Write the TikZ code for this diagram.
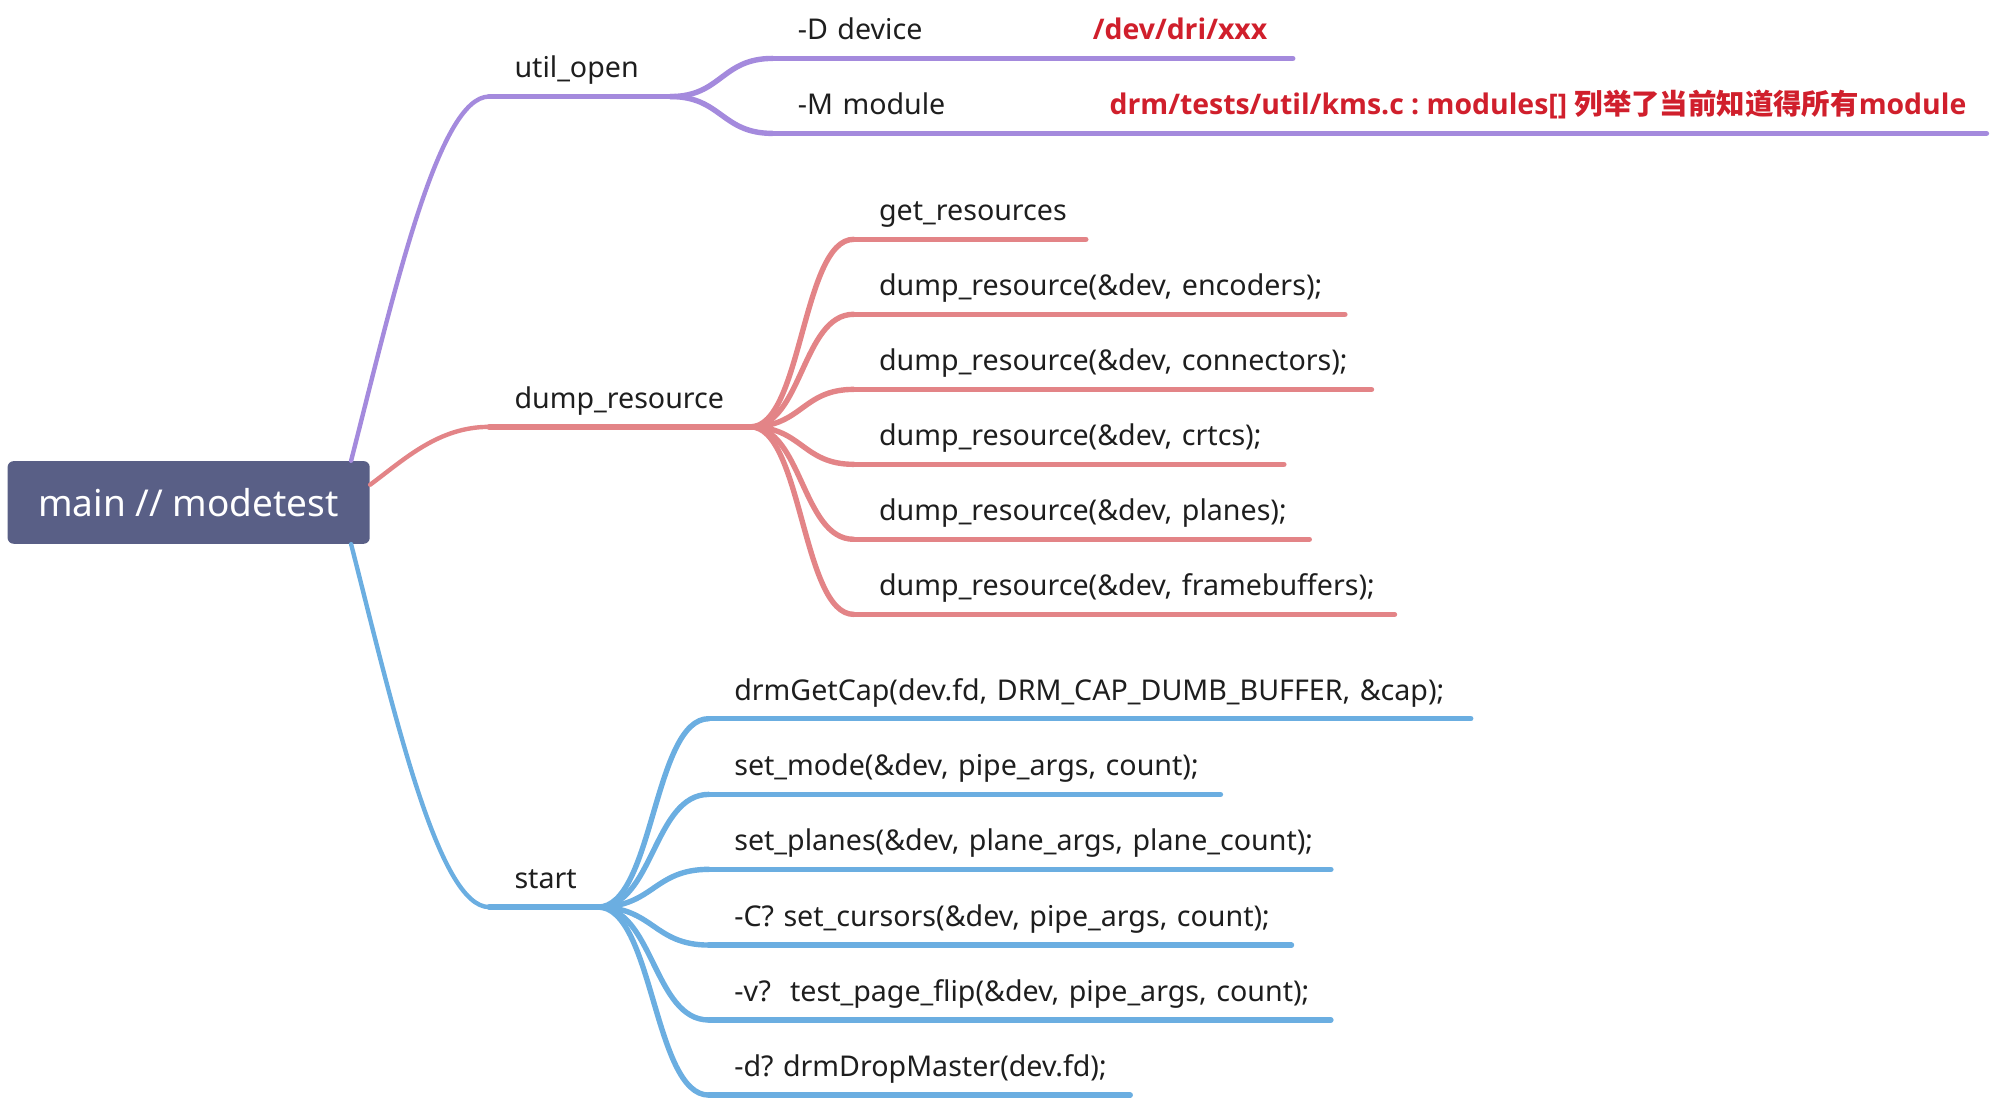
\documentclass[tikz,border=0pt]{standalone}
\usepackage{fontspec}
\setmainfont{Noto Sans}
\newfontfamily\notefont{Open Sans}
\newfontfamily\cjkfont{Noto Sans CJK SC}
\usetikzlibrary{calc}
\frenchspacing

\definecolor{rootfill}{HTML}{595F86}
\definecolor{purpleline}{HTML}{A48ADD}
\definecolor{redline}{HTML}{E38487}
\definecolor{blueline}{HTML}{6BAEE1}
\definecolor{notered}{HTML}{D01F2C}
\definecolor{textgray}{HTML}{1E1E1E}

\tikzset{
	branch/.style={to path={.. controls ($(\tikztostart)!0.5!(\tikztostart -| \tikztotarget)$)
		and ($(\tikztotarget)!0.5!(\tikztotarget -| \tikztostart)$) .. (\tikztotarget)}}
}

\begin{document}
\begin{tikzpicture}[x=0.635pt, y=-0.635pt, line cap=round,
	root node/.style={rectangle, rounded corners=3pt, fill=rootfill, text=white,
		font=\fontsize{18.5}{22}\selectfont, minimum width=181pt, minimum height=41.3pt, inner sep=0pt},
	topic/.style={anchor=south west, inner sep=0pt, text height=10pt, text depth=9.1pt,
		align=left, text=textgray, font=\fontsize{14.3}{17}\selectfont,
		execute at begin node={\hspace*{12.5pt}}},
	note/.style={anchor=base west, inner sep=0pt, text=notered, font=\fontsize{14.2}{17}\selectfont\notefont\bfseries},
	main line/.style={line width=2.2pt},
	sub line/.style={line width=2.7pt}]
	
	\useasboundingbox (0,0) rectangle (1568,866);
	
	\node[root node] (main) at (148.5,395.5) {main // modetest};
	
	% first level
	\node[topic, text width=90.2pt] (util) at (385,76) {util\_open};
	\node[topic, text width=130.2pt] (dump) at (385,336) {dump\_resource};
	\node[topic, text width=54pt] (start) at (385,714) {start};
	
	% util_open
	\node[topic, text width=259.7pt] (dev) at (608,46) {-D device};
	\node[topic, text width=606.4pt] (mod) at (608,105) {-M module};
	\node[note] (devnote) at ([xshift=160pt]dev.base west) {/dev/dri/xxx};
	\node[note] (modnote) at ([xshift=168.3pt]mod.base west) {drm/tests/util/kms.c : modules[] {\cjkfont 列举了当前知道得所有}module};
	
	% dump_resource
	\node[topic, text width=115.6pt] (getres) at (672,188.4) {get\_resources};
	\node[topic, text width=245.1pt] (enc) at (672,247.4) {dump\_resource(\&dev, encoders);};
	\node[topic, text width=258.4pt] (conn) at (672,306.5) {dump\_resource(\&dev, connectors);};
	\node[topic, text width=214.6pt] (crtcs) at (672,365.5) {dump\_resource(\&dev, crtcs);};
	\node[topic, text width=227.3pt] (planes) at (672,424.5) {dump\_resource(\&dev, planes);};
	\node[topic, text width=269.9pt] (fbs) at (672,483.6) {dump\_resource(\&dev, framebuffers);};
	
	% start
	\node[topic, text width=380.4pt] (cap) at (558,565.7) {drmGetCap(dev.fd, DRM\_CAP\_DUMB\_BUFFER, \&cap);};
	\node[topic, text width=255.3pt] (mode) at (558,625.3) {set\_mode(\&dev, pipe\_args, count);};
	\node[topic, text width=310.5pt] (setpl) at (558,684.3) {set\_planes(\&dev, plane\_args, plane\_count);};
	\node[topic, text width=290.8pt] (curs) at (558,743.9) {-C? set\_cursors(\&dev, pipe\_args, count);};
	\node[topic, text width=310.5pt] (flip) at (558,802.9) {-v?~ test\_page\_flip(\&dev, pipe\_args, count);};
	\node[topic, text width=210.2pt] (drop) at (558,862) {-d? drmDropMaster(dev.fd);};
	
	\draw[purpleline, main line] ([xshift=-9.5pt]main.north east) .. controls +(34,-133) and +(-40,0) .. (util.south west);
	\draw[redline, main line] ([yshift=-12pt]main.north east) .. controls +(27,-20) and +(-40,0) .. (dump.south west);
	\draw[blueline, main line] ([xshift=-9.5pt]main.south east) .. controls +(34,133) and +(-40,0) .. (start.south west);
	
	\foreach \n in {util,dev,mod}
		\draw[purpleline, sub line] (\n.south west) -- (\n.south east);
	\foreach \n in {dev,mod}
		\draw[purpleline, sub line] (util.south east) to[branch] (\n.south west);
	
	\foreach \n in {dump,getres,enc,conn,crtcs,planes,fbs}
		\draw[redline, sub line] (\n.south west) -- (\n.south east);
	\foreach \n in {getres,enc,conn,crtcs,planes,fbs}
		\draw[redline, sub line] (dump.south east) to[branch] (\n.south west);
	
	\foreach \n in {start,cap,mode,setpl,curs,flip,drop}
		\draw[blueline, sub line] (\n.south west) -- (\n.south east);
	\foreach \n in {cap,mode,setpl,curs,flip,drop}
		\draw[blueline, sub line] (start.south east) to[branch] (\n.south west);
	
\end{tikzpicture}
\end{document}
